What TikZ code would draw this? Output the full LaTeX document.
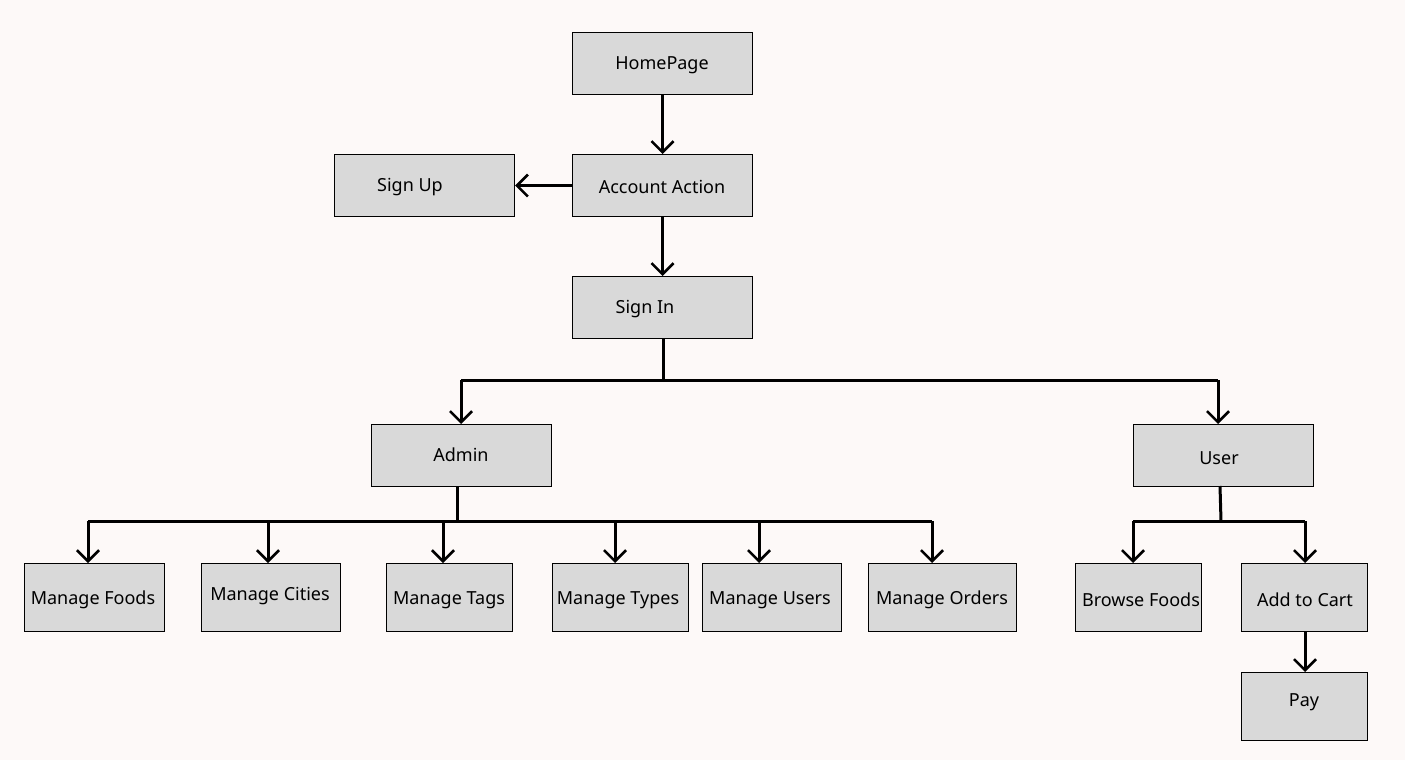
\documentclass[tikz,border=0pt]{standalone}
\usepackage{fontspec}
\setmainfont{Noto Sans}
\usetikzlibrary{arrows.meta}
\definecolor{pagebg}{HTML}{FDF9F8}
\definecolor{boxfill}{HTML}{D9D9D9}
\begin{document}
\begin{tikzpicture}[x=1pt,y=-1pt,
  box/.style={draw=black,fill=boxfill,line width=1.1pt,rectangle,inner sep=0pt},
  txt/.style={font=\fontsize{18}{21}\selectfont,inner sep=0pt,anchor=center,yshift=-2pt},
  link/.style={line width=3pt,-{Straight Barb[length=11pt,width=22pt,line width=2.6pt]}},
  bar/.style={line width=3pt}]
\useasboundingbox[fill=pagebg] (0,0) rectangle (1405,760);

% boxes: corners given as (left,top) rectangle (right,bottom)
\newcommand{\mybox}[5]{\node[box,anchor=north west,minimum width=#4-#2,minimum height=#5-#3] (#1) at (#2,#3) {};}
\mybox{home}{572}{32}{752}{94}
\mybox{account}{572}{154}{752}{216}
\mybox{signup}{334}{154}{514}{216}
\mybox{signin}{572}{276}{752}{338}
\mybox{admin}{371}{424}{551}{486}
\mybox{user}{1133}{424}{1313}{486}
\mybox{mfoods}{24}{563}{164}{631}
\mybox{mcities}{201}{563}{340}{631}
\mybox{mtags}{386}{563}{512}{631}
\mybox{mtypes}{552}{563}{688}{631}
\mybox{musers}{702}{563}{841}{631}
\mybox{morders}{868}{563}{1016}{631}
\mybox{browse}{1075}{563}{1201}{631}
\mybox{cart}{1241}{563}{1367}{631}
\mybox{pay}{1241}{672}{1367}{740}

% labels
\node[txt] (thome) at (662,63) {HomePage};
\node[txt] (taccount) at (662,185) {Account Action};
\node[txt] (tsignup) at (410,185) {Sign Up};
\node[txt] (tsignin) at (645,307) {Sign In};
\node[txt] (tadmin) at (461,453) {Admin};
\node[txt] (tuser) at (1219,456) {User};
\node[txt] (tmfoods) at (93,598) {Manage Foods};
\node[txt] (tmcities) at (270,594) {Manage Cities};
\node[txt] (tmtags) at (449,598) {Manage Tags};
\node[txt] (tmtypes) at (618,598) {Manage Types};
\node[txt] (tmusers) at (770,598) {Manage Users};
\node[txt] (tmorders) at (942,598) {Manage Orders};
\node[txt] (tbrowse) at (1141,598) {Browse Foods};
\node[txt] (tcart) at (1305,598) {Add to Cart};
\node[txt] (tpay) at (1304,700) {Pay};

% junction points of the branching connectors
\coordinate (sj) at (663,380);
\coordinate (aj) at (457,521);
\coordinate (uj) at (1221,521);

% straight connectors
\draw[link] (home.south) -- (account.north);
\draw[link] (account.west) -- (signup.east);
\draw[link] (account.south) -- (signin.north);
\draw[link] (cart.south -| 1305,0) -- (pay.north -| 1305,0);

% sign in branches
\draw[bar] (signin.south -| sj) -- (sj);
\draw[bar] (461,380) -- (1218,380);
\draw[link] (461,380) -- (admin.north -| 461,0);
\draw[link] (1218,380) -- (user.north -| 1218,0);

% admin branches
\draw[bar] (admin.south -| aj) -- (aj);
\draw[bar] (88,521) -- (932,521);
\foreach \x/\n in {88/mfoods,268/mcities,443/mtags,615/mtypes,759/musers,932/morders}
  \draw[link] (\x,521) -- (\n.north -| \x,0);

% user branches
\draw[bar] (1220,486) -- (uj);
\draw[bar] (1133,521) -- (1305,521);
\draw[link] (1133,521) -- (browse.north -| 1133,0);
\draw[link] (1305,521) -- (cart.north -| 1305,0);
\end{tikzpicture}
\end{document}
